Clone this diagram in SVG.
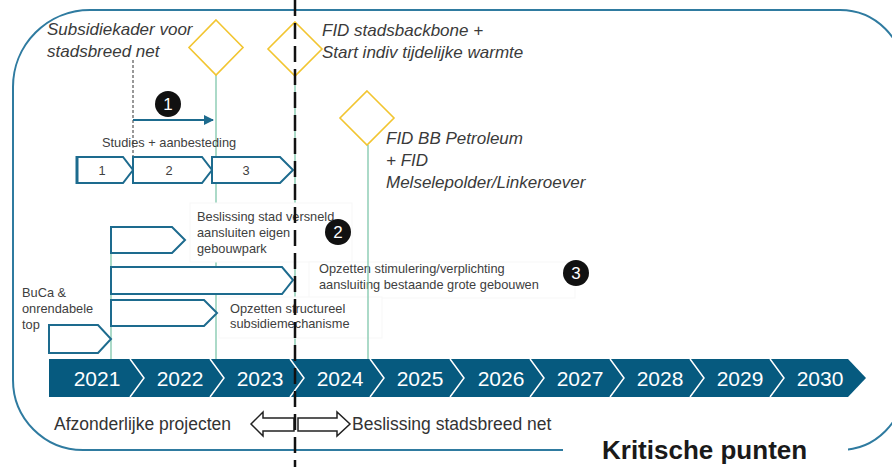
<svg xmlns="http://www.w3.org/2000/svg" width="892" height="467" viewBox="0 0 892 467">
<defs>
<style>
.frame{fill:none;stroke:#2F7BA0;stroke-width:2}
.dia{fill:#fff;stroke:#F2C530;stroke-width:1.6}
.gl{stroke:#7FC6AB;stroke-width:1.3;fill:none}
.pent{fill:#fff;stroke:#1D6B8E;stroke-width:2}
.it{font-family:"Liberation Sans",Arial,sans-serif;font-style:italic;font-size:17px;fill:#3a3a3a}
.sm{font-family:"Liberation Sans",Arial,sans-serif;font-size:12.8px;fill:#404040}
.bt{font-family:"Liberation Sans",Arial,sans-serif;font-size:17.5px;fill:#333}
.yr{font-family:"Liberation Sans",Arial,sans-serif;font-size:21px;fill:#fff;text-anchor:middle}
.num{font-family:"Liberation Sans",Arial,sans-serif;font-size:17px;fill:#fff;text-anchor:middle}
.sep{fill:none;stroke:#fff;stroke-width:1.5}
.tbox{fill:#fff;stroke:#f7f7f7;stroke-width:1}
.blk{fill:#fff;stroke:#222;stroke-width:1.5}
</style>
<marker id="ah" viewBox="0 0 10 10" refX="9" refY="5" markerWidth="10" markerHeight="10" markerUnits="userSpaceOnUse" orient="auto">
<path d="M0,0 L10,5 L0,10 Z" fill="#1D6B8E"/>
</marker>
</defs>
<rect width="892" height="467" fill="#fff"/>
<path class="frame" d="M90,10 H840 A64,64 0 0 1 904,74 V386 A64,64 0 0 1 840,450 H83 A70,70 0 0 1 13,380 V87 A77,77 0 0 1 90,10 Z"/>

<g id="connectors">
<line class="gl" x1="216" y1="75" x2="216" y2="359"/>
<line class="gl" x1="295" y1="76" x2="295" y2="359"/>
<line class="gl" x1="111" y1="227" x2="111" y2="359"/>
<line x1="133" y1="60" x2="133" y2="183" stroke="#333" stroke-width="1" stroke-dasharray="3 2"/>
<line x1="133" y1="120" x2="213" y2="120" stroke="#1D6B8E" stroke-width="1.8" marker-end="url(#ah)"/>
</g>

<g id="diamond1"><path class="dia" d="M216,20 L243,47.5 L216,75 L189,47.5 Z"/></g>
<g id="diamond2"><path class="dia" d="M295,22 L322,49 L295,76 L268,49 Z"/></g>
<g id="diamond3"><path class="dia" d="M367,91 L394,118 L367,145 L340,118 Z"/></g>

<g id="label-subsidiekader">
<text class="it" x="47" y="35">Subsidiekader voor</text>
<text class="it" x="47" y="57">stadsbreed net</text>
</g>
<g id="label-fid-backbone">
<text class="it" x="322" y="36">FID stadsbackbone +</text>
<text class="it" x="322" y="58">Start indiv tijdelijke warmte</text>
</g>
<g id="label-fid-bb">
<text class="it" x="386" y="144">FID BB Petroleum</text>
<text class="it" x="386" y="166">+ FID</text>
<text class="it" x="386" y="188">Melselepolder/Linkeroever</text>
</g>

<g id="badge1"><circle cx="168" cy="104" r="13" fill="#111"/><text class="num" x="168" y="110">1</text></g>
<g id="studies"><text class="sm" x="102" y="147">Studies + aanbesteding</text></g>

<g id="phases">
<path class="pent" d="M77,157 H123 L133,170 L123,183 H77 Z"/>
<path class="pent" d="M133,157 H202 L212,170 L202,183 H133 Z"/>
<path class="pent" d="M212,157 H280 L293,170 L280,183 H212 Z"/>
<line x1="77" y1="156" x2="77" y2="184" stroke="#1D6B8E" stroke-width="3"/>
<text class="sm" x="102" y="175" text-anchor="middle" font-size="13">1</text>
<text class="sm" x="169" y="175" text-anchor="middle" font-size="13">2</text>
<text class="sm" x="246" y="175" text-anchor="middle" font-size="13">3</text>
</g>

<g id="box-beslissing">
<rect class="tbox" x="190" y="203" width="162" height="59"/>
<text class="sm" x="197" y="221">Beslissing stad versneld</text>
<text class="sm" x="197" y="237">aansluiten eigen</text>
<text class="sm" x="197" y="253">gebouwpark</text>
</g>
<g id="box-stimulering">
<rect class="tbox" x="309" y="262" width="266" height="36"/>
<text class="sm" x="319" y="273">Opzetten stimulering/verplichting</text>
<text class="sm" x="319" y="289">aansluiting bestaande grote gebouwen</text>
</g>
<g id="box-structureel">
<rect class="tbox" x="219" y="297" width="163" height="41"/>
<text class="sm" x="230" y="313">Opzetten structureel</text>
<text class="sm" x="230" y="328">subsidiemechanisme</text>
</g>

<g id="arrowA"><path class="pent" d="M111,227 H172 L185,240 L172,253 H111 Z"/></g>
<g id="arrowB"><path class="pent" d="M111,267 H282 L293,280 L282,294 H111 Z"/></g>
<g id="arrowC"><path class="pent" d="M111,300 H204 L217,313 L204,326 H111 Z"/></g>
<g id="arrowD"><path class="pent" d="M49,325 H98 L111,339 L98,353 H49 Z"/></g>
<g id="label-buca">
<text class="sm" x="22" y="297">BuCa &amp;</text>
<text class="sm" x="22" y="313">onrendabele</text>
<text class="sm" x="22" y="329">top</text>
</g>

<line class="gl" x1="368" y1="145" x2="368" y2="359"/>

<g id="badge2"><circle cx="338" cy="232" r="13" fill="#111"/><text class="num" x="338" y="238">2</text></g>
<g id="badge3"><circle cx="576" cy="273" r="13" fill="#111"/><text class="num" x="576" y="279">3</text></g>

<g id="timeline">
<path d="M49,359 H848 L866,378 L848,397 H49 Z" fill="#065A7F"/>
<path class="sep" d="M130,359 L144,378 L130,397"/>
<path class="sep" d="M210,359 L224,378 L210,397"/>
<path class="sep" d="M290,359 L304,378 L290,397"/>
<path class="sep" d="M370,359 L384,378 L370,397"/>
<path class="sep" d="M450,359 L464,378 L450,397"/>
<path class="sep" d="M530,359 L544,378 L530,397"/>
<path class="sep" d="M610,359 L624,378 L610,397"/>
<path class="sep" d="M690,359 L704,378 L690,397"/>
<path class="sep" d="M770,359 L784,378 L770,397"/>
<text class="yr" x="97" y="385.5">2021</text>
<text class="yr" x="180" y="385.5">2022</text>
<text class="yr" x="260" y="385.5">2023</text>
<text class="yr" x="340" y="385.5">2024</text>
<text class="yr" x="420" y="385.5">2025</text>
<text class="yr" x="501" y="385.5">2026</text>
<text class="yr" x="580" y="385.5">2027</text>
<text class="yr" x="660" y="385.5">2028</text>
<text class="yr" x="740" y="385.5">2029</text>
<text class="yr" x="820" y="385.5">2030</text>
</g>

<g id="bottom-arrows">
<path class="blk" d="M251,424 L263,412 L263,418 L294,418 L294,431 L263,431 L263,436 Z"/>
<path class="blk" d="M298,418 L337,418 L337,412 L350,424 L337,436 L337,431 L298,431 Z"/>
<text class="bt" x="54" y="430">Afzonderlijke projecten</text>
<text class="bt" x="352" y="430">Beslissing stadsbreed net</text>
</g>

<g id="title">
<rect x="563" y="429" width="285" height="38" fill="#fff"/>
<text x="602" y="459" font-family="'Liberation Sans',Arial,sans-serif" font-weight="bold" font-size="26" fill="#1a1a1a">Kritische punten</text>
</g>

<line x1="295" y1="0" x2="295" y2="467" stroke="#111" stroke-width="2.5" stroke-dasharray="16 7"/>
</svg>
